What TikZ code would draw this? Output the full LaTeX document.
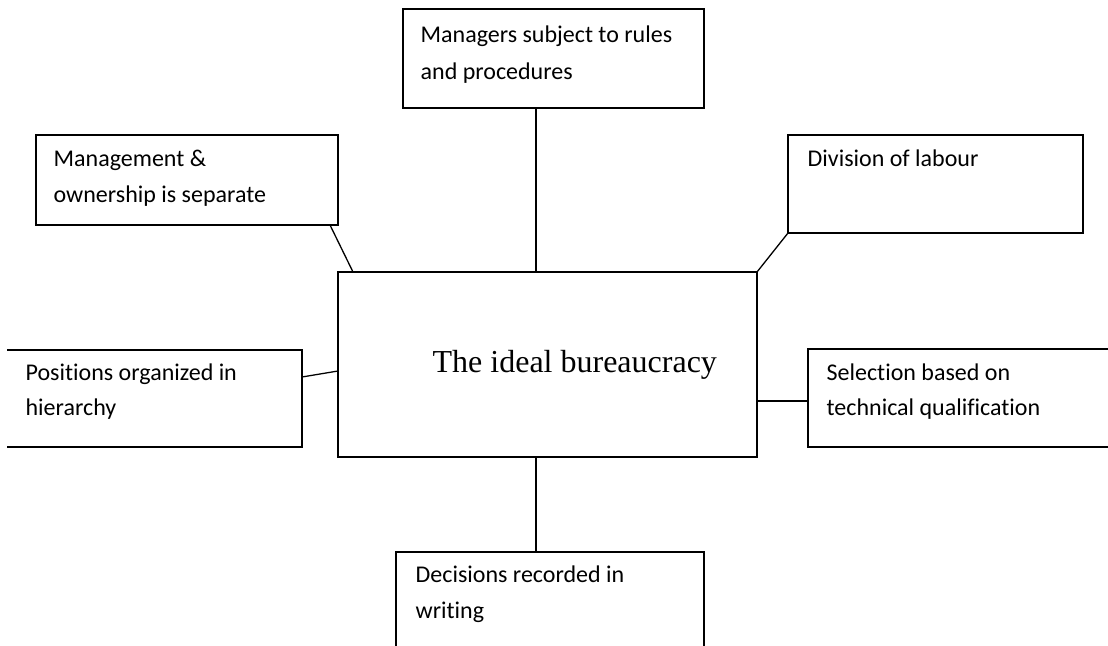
\documentclass[tikz,border=0pt]{standalone}
\usepackage{fontspec}
\setmainfont{Liberation Serif}
\newfontfamily\boxfont[Ligatures=NoCommon]{Carlito}
\begin{document}
\begin{tikzpicture}[x=1pt,y=-1pt,line width=1.3pt,
  lbl/.style={font=\boxfont\fontsize{24}{29}\selectfont,anchor=base west,inner sep=0pt},
  boxshape/.style={draw,rectangle,inner sep=0pt,outer sep=0pt,anchor=north west},
  ghost/.style={draw=none,rectangle,inner sep=0pt,outer sep=0pt,anchor=north west}
]
\useasboundingbox (0,0) rectangle (1108,645);
\clip (0,0) rectangle (1108,645);
% boxes
\node[boxshape,minimum width=301pt,minimum height=99pt] (T) at (403,9) {};
\node[boxshape,minimum width=302pt,minimum height=90pt] (M) at (36,135) {};
\node[boxshape,minimum width=295pt,minimum height=98pt] (D) at (788,135) {};
\node[boxshape,minimum width=419pt,minimum height=185pt] (C) at (338,272) {};
\node[ghost,minimum width=295pt,minimum height=97pt] (P) at (7,350) {};
\node[boxshape,minimum width=330pt,minimum height=98pt] (S) at (808,349) {};
\node[boxshape,minimum width=308pt,minimum height=120pt] (B) at (396,552) {};
\draw (P.north west) -- (P.north east) -- (P.south east) -- (P.south west);
% texts
\node[lbl] (T1) at (420,42) {Managers subject to rules};
\node[lbl] (T2) at (420,79) {and procedures};
\node[lbl] (M1) at (53,166) {Management \&};
\node[lbl] (M2) at (53,202) {ownership is separate};
\node[lbl] (D1) at (807,166) {Division of labour};
\node[lbl] (P1) at (25,380) {Positions organized in};
\node[lbl] (P2) at (25,415) {hierarchy};
\node[lbl] (S1) at (826,380) {Selection based on};
\node[lbl] (S2) at (826,415) {technical qualification};
\node[lbl] (B1) at (415,582) {Decisions recorded in};
\node[lbl] (B2) at (415,618) {writing};
\node[font=\fontsize{32}{38}\selectfont,anchor=base west,inner sep=0pt] (Ct) at (432,372) {The ideal bureaucracy};
% connectors
\coordinate (vx) at (536,0);
\coordinate (mx) at (330,0);
\coordinate (cx) at (353,0);
\coordinate (py1) at (0,377);
\coordinate (py2) at (0,371);
\coordinate (sy) at (0,401);
\draw (T.south -| vx) -- (C.north -| vx);
\draw (M.south -| mx) -- (C.north -| cx);
\draw (D.south west) -- (C.north east);
\draw (P.east |- py1) -- (C.west |- py2);
\draw (C.east |- sy) -- (S.west |- sy);
\draw (C.south -| vx) -- (B.north -| vx);
\end{tikzpicture}
\end{document}
